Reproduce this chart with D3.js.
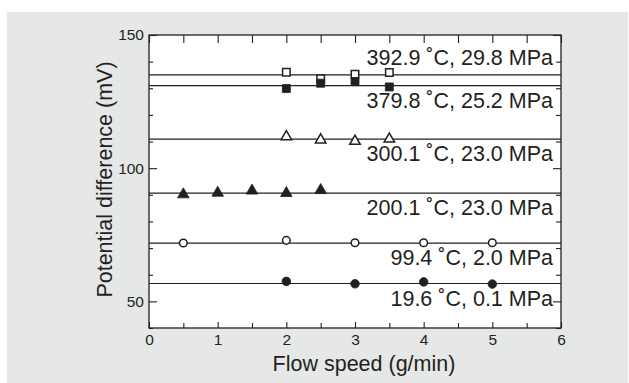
<!DOCTYPE html>
<html>
<head>
<meta charset="utf-8">
<script src="https://cdn.jsdelivr.net/npm/d3@7"></script>
<style>
  body { margin: 0; background: #fff; }
  svg text { font-family: "Liberation Sans", Arial, sans-serif; fill: #231f20; }
</style>
</head>
<body>
<script>
// conditions, top to bottom
var labels = ["392.9 \u02daC, 29.8 MPa", "379.8 \u02daC, 25.2 MPa", "300.1 \u02daC, 23.0 MPa",
              "200.1 \u02daC, 23.0 MPa", "99.4 \u02daC, 2.0 MPa", "19.6 \u02daC, 0.1 MPa"];
var symbols = ["openSquare", "square", "openTriangle", "triangle", "openCircle", "circle"];
// fitted level (mV) for each condition
var levels = [135.0, 131.0, 110.9, 90.6, 71.9, 56.7];

// measured points, flow speed (g/min) and potential difference (mV)
var x392 = [2, 2.5, 3, 3.5],          y392 = [136.0, 133.6, 135.3, 135.9];
var x379 = [2, 2.5, 3, 3.5],          y379 = [129.9, 131.9, 132.5, 130.5];
var x300 = [2, 2.5, 3, 3.5],          y300 = [112.2, 111.0, 110.5, 111.3];
var x200 = [0.5, 1, 1.5, 2, 2.5],     y200 = [90.5, 91.1, 91.9, 91.0, 92.1];
var x99  = [0.5, 2, 3, 4, 5],         y99  = [71.9, 72.9, 72.0, 72.0, 72.0];
var x19  = [2, 3, 4, 5],              y19  = [57.5, 56.6, 57.3, 56.5];

var xTicks = [0, 1, 2, 3, 4, 5, 6];
var yTicks = [50, 100, 150];

var seriesX = [x392, x379, x300, x200, x99, x19];
var seriesY = [y392, y379, y300, y200, y99, y19];

var W = 629, H = 383;
var margin = { top: 35, right: 68, bottom: 55, left: 149 },
    width = W - margin.left - margin.right,
    height = H - margin.top - margin.bottom;

var svg = d3.select("body").append("svg")
    .attr("width", W)
    .attr("height", H);

// grey panel
svg.append("rect")
    .attr("x", 7).attr("y", 12)
    .attr("width", W - 8).attr("height", H - 12)
    .attr("fill", "#e6e8e7");

var g = svg.append("g")
    .attr("transform", "translate(" + margin.left + "," + margin.top + ")");

var x = d3.scaleLinear().domain([0, 6]).range([0, width]);
var y = d3.scaleLinear().domain([40, 150]).range([height, 0]);

g.append("rect")
    .attr("width", width).attr("height", height)
    .attr("fill", "#fff");

// minor ticks
var minorY = d3.range(40, 151, 10).filter(function (v) { return v % 50 != 0; });
var minorX = d3.range(0.5, 6, 1);

function styleAxis(sel) {
    sel.select(".domain").remove();
    sel.selectAll("line").attr("stroke", "#231f20").attr("stroke-width", 1.1);
    sel.selectAll("text").style("font-size", "15.5px").attr("fill", "#231f20");
}

g.append("g").call(d3.axisLeft(y).tickValues(yTicks).tickSize(-8).tickPadding(5))
    .call(styleAxis);
g.append("g").call(d3.axisLeft(y).tickValues(minorY).tickSize(-4).tickFormat(""))
    .call(styleAxis);
g.append("g").attr("transform", "translate(" + width + ",0)")
    .call(d3.axisRight(y).tickValues(yTicks).tickSize(-8).tickFormat(""))
    .call(styleAxis);
g.append("g").attr("transform", "translate(" + width + ",0)")
    .call(d3.axisRight(y).tickValues(minorY).tickSize(-5).tickFormat(""))
    .call(styleAxis);

g.append("g").attr("transform", "translate(0," + height + ")")
    .call(d3.axisBottom(x).tickValues(xTicks).tickSize(-6).tickPadding(6).tickFormat(d3.format("d")))
    .call(styleAxis);
g.append("g").attr("transform", "translate(0," + height + ")")
    .call(d3.axisBottom(x).tickValues(minorX).tickSize(-5).tickFormat(""))
    .call(styleAxis);
g.append("g")
    .call(d3.axisTop(x).tickValues(xTicks.concat(minorX)).tickSize(-8).tickFormat(""))
    .call(styleAxis);

// frame
g.append("rect")
    .attr("width", width).attr("height", height)
    .attr("fill", "none")
    .attr("stroke", "#231f20")
    .attr("stroke-width", 1.3);

// fitted lines
g.selectAll(".level")
    .data(levels)
    .enter().append("line")
    .attr("class", "level")
    .attr("x1", 0).attr("x2", width)
    .attr("y1", function (d) { return y(d); })
    .attr("y2", function (d) { return y(d); })
    .attr("stroke", "#231f20")
    .attr("stroke-width", 1.2);

// labels
g.selectAll(".lab")
    .data(labels)
    .enter().append("text")
    .attr("class", "lab")
    .attr("x", width - 8)
    .attr("y", function (d, i) { return y(levels[i]) + (i == 0 ? -10 : 22); })
    .attr("text-anchor", "end")
    .style("font-size", "21.5px")
    .text(function (d) { return d; });

// markers
var shapes = {
    openSquare: d3.symbolSquare, square: d3.symbolSquare,
    openTriangle: d3.symbolTriangle, triangle: d3.symbolTriangle,
    openCircle: d3.symbolCircle, circle: d3.symbolCircle
};
var sizes = { openSquare: 56, square: 64, openTriangle: 48, triangle: 58, openCircle: 46, circle: 58 };

symbols.forEach(function (sym, i) {
    var pts = seriesX[i].map(function (v, j) { return [v, seriesY[i][j]]; });
    var open = sym.indexOf("open") == 0;
    g.append("g").selectAll("path")
        .data(pts)
        .enter().append("path")
        .attr("transform", function (d) {
            var dy = sym.indexOf("riangle") > 0 ? 1 : 0;
            return "translate(" + x(d[0]) + "," + (y(d[1]) + dy) + ")";
        })
        .attr("d", d3.symbol().type(shapes[sym]).size(sizes[sym]))
        .attr("fill", open ? "#fff" : "#231f20")
        .attr("stroke", "#231f20")
        .attr("stroke-width", open ? 1.5 : 0.8);
});

// axis titles
svg.append("text")
    .attr("x", 364)
    .attr("y", 371)
    .attr("text-anchor", "middle")
    .style("font-size", "21.5px")
    .text("Flow speed (g/min)");

svg.append("text")
    .attr("transform", "translate(112," + (margin.top + height / 2 - 2) + ") rotate(-90)")
    .attr("text-anchor", "middle")
    .style("font-size", "21.5px")
    .text("Potential difference (mV)");
</script>
</body>
</html>
